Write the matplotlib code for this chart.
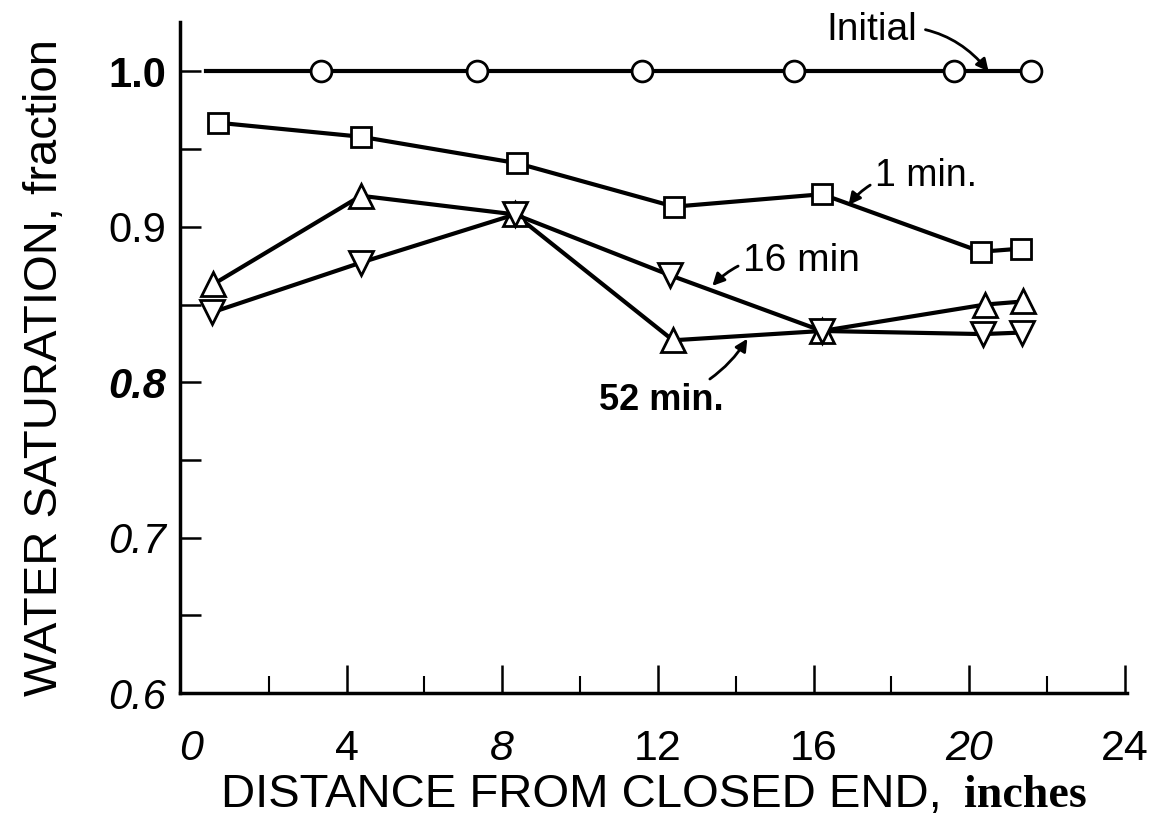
import matplotlib
matplotlib.use('Agg')
import matplotlib.pyplot as plt
from matplotlib.ticker import MultipleLocator

plt.rcParams['font.family'] = ['Liberation Sans', 'DejaVu Sans']

# distance from closed end (inches) and water saturation (fraction)
x_init = [0.4, 3.35, 7.35, 11.6, 15.5, 19.6, 21.6]
sw_init = [1.0, 1.0, 1.0, 1.0, 1.0, 1.0, 1.0]

x_1min = [0.7, 4.37, 8.38, 12.42, 16.22, 20.3, 21.34]
sw_1min = [0.967, 0.958, 0.941, 0.913, 0.921, 0.884, 0.886]

x_16min = [0.55, 4.37, 8.33, 12.3, 16.22, 20.35, 21.36]
sw_16min = [0.845, 0.877, 0.908, 0.869, 0.833, 0.831, 0.832]

x_52min = [0.57, 4.37, 8.33, 12.39, 16.22, 20.41, 21.39]
sw_52min = [0.863, 0.920, 0.908, 0.827, 0.833, 0.850, 0.852]

fig = plt.figure(figsize=(11.56, 8.36), dpi=100)
ax = fig.add_axes([0.1557, 0.171, 0.819, 0.803])

lw = 3.0
mkw = dict(markersize=15, markerfacecolor='white', markeredgecolor='black',
           markeredgewidth=2.0, color='black', linewidth=lw)

ax.plot(x_init, sw_init, marker='o', markevery=list(range(1, len(x_init))), **mkw)
ax.plot(x_1min, sw_1min, marker='s', **dict(mkw, markersize=14))
ax.plot(x_52min, sw_52min, marker='^', **dict(mkw, markersize=17))
ax.plot(x_16min, sw_16min, marker='v', **dict(mkw, markersize=17))

ax.set_xlim(-0.28, 24.05)
ax.set_ylim(0.6, 1.032)

ax.spines['top'].set_visible(False)
ax.spines['right'].set_visible(False)
ax.spines['left'].set_linewidth(2.5)
ax.spines['bottom'].set_linewidth(2.5)

ax.xaxis.set_minor_locator(MultipleLocator(2))
ax.yaxis.set_minor_locator(MultipleLocator(0.05))

ax.tick_params(axis='x', which='major', direction='in', length=20, width=1.8,
               labelsize=31, pad=26)
ax.tick_params(axis='x', which='minor', direction='in', length=12, width=1.5)
ax.tick_params(axis='y', which='both', direction='in', length=15, width=1.8,
               labelsize=30, pad=10)

ax.set_xticks([0, 4, 8, 12, 16, 20, 24])
ax.set_xticklabels(['0', '4', '8', '12', '16', '20', '24'])
ax.xaxis.get_major_ticks()[0].tick1line.set_visible(False)
ax.set_yticks([0.6, 0.7, 0.8, 0.9, 1.0])
ax.set_yticklabels(['0.6', '0.7', '0.8', '0.9', '1.0'])
for lab in ax.get_yticklabels():
    if lab.get_text() in ('0.6', '0.7', '0.8'):
        lab.set_style('italic')
    if lab.get_text() in ('0.8', '1.0'):
        lab.set_fontweight('bold')
for lab in ax.get_xticklabels():
    if lab.get_text() in ('0', '8', '20'):
        lab.set_style('italic')

fig.text(0.039, 0.56, 'WATER SATURATION, fraction', rotation=90,
         ha='center', va='center', fontsize=34)
fig.text(0.815, 0.049, 'DISTANCE FROM CLOSED END,', ha='right', va='center',
         fontsize=34)
fig.text(0.834, 0.048, 'inches', ha='left', va='center', fontsize=33,
         fontweight='bold', family='Liberation Serif')

arrow = dict(arrowstyle='-|>', color='black', lw=2, mutation_scale=18)
ax.annotate('Initial', xy=(20.5, 1.0), xytext=(17.5, 1.027), fontsize=28,
            ha='center', va='center',
            arrowprops=dict(arrow, connectionstyle='arc3,rad=-0.3',
                            shrinkA=4, shrinkB=0))
ax.annotate('1 min.', xy=(16.9, 0.914), xytext=(18.9, 0.933), fontsize=27,
            ha='center', va='center',
            arrowprops=dict(arrow, connectionstyle='arc3,rad=0.3',
                            shrinkA=2, shrinkB=0))
ax.annotate('16 min', xy=(13.4, 0.862), xytext=(15.7, 0.878), fontsize=28,
            ha='center', va='center',
            arrowprops=dict(arrow, connectionstyle='arc3,rad=0.3',
                            shrinkA=2, shrinkB=0))
ax.annotate('52 min.', xy=(14.3, 0.828), xytext=(12.1, 0.788), fontsize=26,
            ha='center', va='center', fontweight='bold',
            arrowprops=dict(arrow, connectionstyle='arc3,rad=0.2',
                            shrinkA=2, shrinkB=0))

fig.savefig('out.png', dpi=100)
